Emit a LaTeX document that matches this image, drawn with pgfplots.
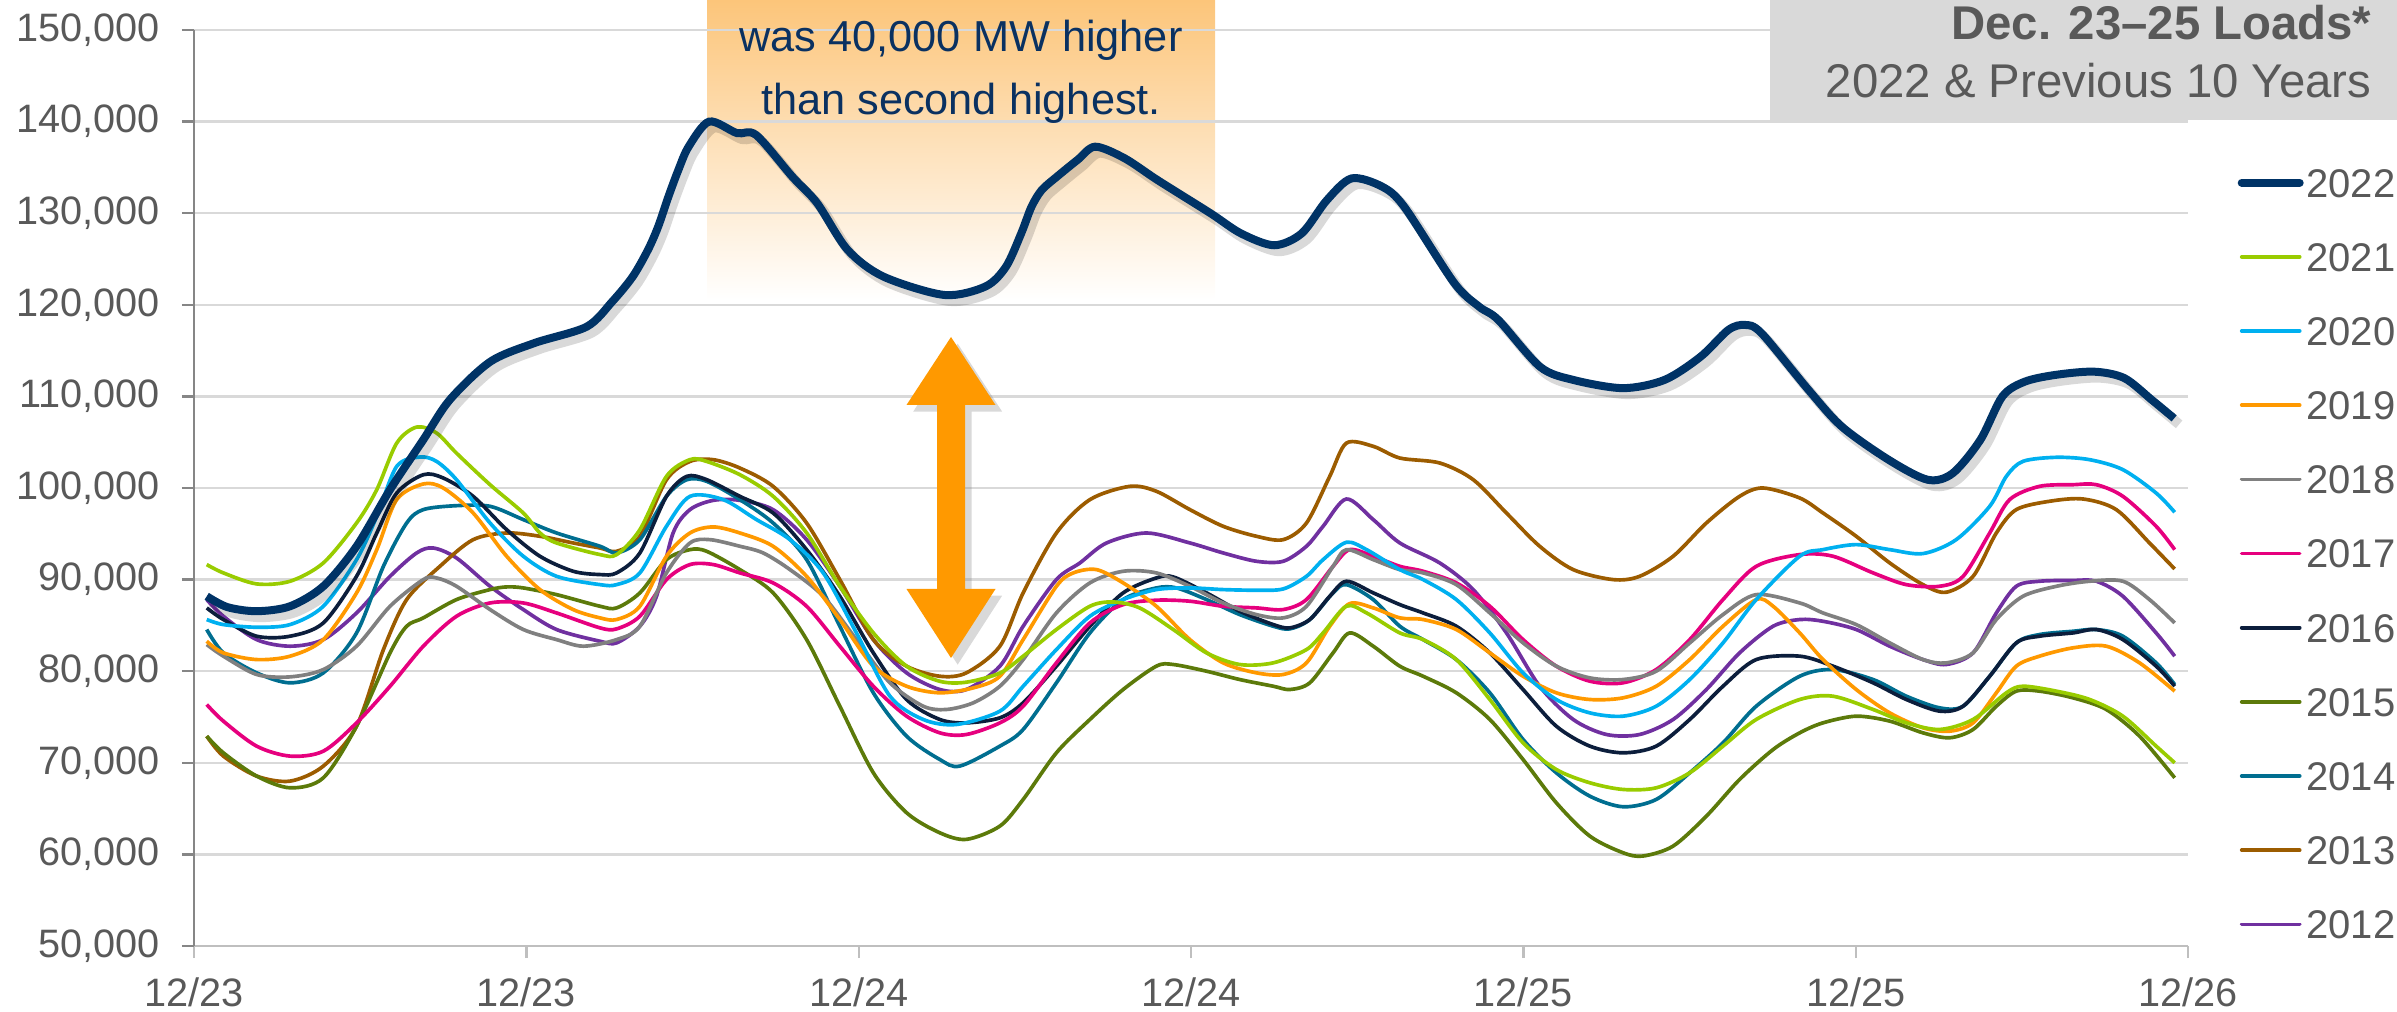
\documentclass[border=0pt]{standalone}
\usepackage{fontspec}
\setmainfont{Liberation Sans}
\usepackage{pgfplots}
\usepackage{pgfplotstable}
\pgfplotsset{compat=1.18}
\usetikzlibrary{shadows}

\definecolor{c2022}{HTML}{003366}
\definecolor{c2021}{HTML}{99CC00}
\definecolor{c2020}{HTML}{00B0F0}
\definecolor{c2019}{HTML}{FF9900}
\definecolor{c2018}{HTML}{808080}
\definecolor{c2017}{HTML}{E6007E}
\definecolor{c2016}{HTML}{0C1E3C}
\definecolor{c2015}{HTML}{5C7A0A}
\definecolor{c2014}{HTML}{006E90}
\definecolor{c2013}{HTML}{9C5C00}
\definecolor{c2012}{HTML}{7030A0}
\definecolor{txtgray}{HTML}{595959}
\definecolor{gridgray}{HTML}{D9D9D9}
\definecolor{boxgray}{HTML}{D9D9D9}
\definecolor{navytxt}{HTML}{0A3161}
\definecolor{arroworange}{HTML}{FF9900}
\definecolor{boxorange}{HTML}{FCC57A}
\definecolor{xaxisgray}{HTML}{BFBFBF}
\definecolor{yaxisgray}{HTML}{868686}

\pgfplotstableread{
h v
0.46 88180
1.2 87000
2.26 86550
3.47 87090
4.67 89270
5.87 93640
7.08 99820
8.28 105270
9.24 109640
10.7 113790
12.3 115830
14.18 117610
15.10 120340
15.84 123070
16.39 125980
16.76 128530
17.13 131800
17.49 134720
17.86 137260
18.6 140000
19.6 138750
20.3 138530
21.6 134000
22.5 131100
23.6 126000
24.9 123070
27.1 121070
28.58 122000
29.32 124160
29.87 127800
30.24 130700
30.61 132530
31.16 133990
31.90 135810
32.54 137260
33.6 136000
34.8 133600
36.7 130000
37.8 127800
39.0 126500
40.0 127800
40.9 131400
41.8 133800
42.9 132900
43.7 130700
45.5 122400
46.4 119800
47.1 118340
48.6 113240
49.8 111800
51.6 110900
53.1 111800
54.4 114330
55.4 117250
56.0 117800
56.6 116900
58.3 110700
59.5 106700
61.2 103060
62.6 100900
63.5 101600
64.5 105240
65.3 110000
66.1 111600
67.2 112340
68.6 112700
69.7 112000
70.7 109600
71.5 107600
}\dataA

\pgfplotstableread{
h v
0.46 91640
1.06 90730
2.26 89530
3.47 89820
4.67 91820
5.87 96180
6.60 99820
7.32 104900
8.04 106650
8.76 106000
9.48 103800
10.69 100360
11.89 97270
12.49 95100
13.09 94000
14.66 92730
15.26 92730
16.10 95450
17.06 101270
17.91 103100
18.51 102900
19.71 101450
20.91 99100
22.12 95100
23.32 89270
24.53 84180
25.73 80550
26.93 78900
27.89 78800
29.10 79800
29.94 81640
31.14 84550
32.35 87090
33.19 87560
34.15 86900
35.36 84550
36.56 82000
37.76 80730
38.97 80910
40.17 82360
40.77 84180
41.61 87100
42.34 86360
43.54 84180
44.38 83450
45.58 81270
46.79 76910
47.99 72180
49.19 69270
50.40 67820
51.60 67090
52.80 67270
54.01 68910
55.21 71820
56.41 74730
57.98 76910
59.18 77270
60.63 75820
61.83 74360
63.03 73640
64.24 74730
65.44 77640
66.04 78360
67.25 77820
68.45 76910
69.65 75090
70.85 71820
71.52 70000
}\dataB

\pgfplotstableread{
h v
0.46 85640
1.06 85090
2.26 84800
3.47 85090
4.67 87090
5.87 92180
6.60 96910
7.32 102360
8.16 103380
8.76 102900
9.48 100900
10.69 96180
11.89 92550
13.09 90360
14.66 89450
15.26 89450
16.10 90730
17.06 95820
17.91 99090
19.11 98730
20.31 96550
21.52 94360
22.72 90730
23.92 84180
25.13 77270
26.33 74730
27.53 74180
29.10 75640
29.94 78360
31.14 82360
32.35 86000
33.55 87820
34.75 88910
35.96 89090
37.16 88910
38.36 88840
39.33 88980
40.17 90360
40.77 92180
41.61 94070
42.34 93270
43.54 91090
44.38 90000
45.58 87820
46.79 84180
47.99 79820
49.19 76910
50.40 75450
51.60 75090
52.80 76180
54.01 79090
55.21 83090
56.41 87820
57.98 92550
58.82 93270
60.02 93820
61.23 93270
62.43 92840
63.63 94360
64.84 98000
65.44 101270
66.04 102910
67.25 103350
68.45 103090
69.65 102000
70.85 99450
71.52 97350
}\dataC

\pgfplotstableread{
h v
0.46 83270
1.06 82000
2.26 81270
3.47 81640
4.67 83450
5.87 88550
6.60 93270
7.32 98730
8.28 100440
9.00 100000
10.08 97270
11.29 92550
12.49 88910
13.69 86730
14.66 85820
15.26 85640
16.10 87090
17.06 92550
17.91 95090
18.75 95750
19.71 95090
20.91 93640
22.12 90360
23.32 85640
24.53 80550
25.73 78360
26.93 77640
28.14 78180
29.10 79450
29.94 83450
31.14 89270
31.75 90730
32.59 91090
33.55 89640
34.75 87090
35.96 83450
37.16 80910
38.36 79820
39.33 79640
40.17 80910
41.01 84910
41.73 87380
42.58 86910
43.54 85820
44.38 85640
45.58 84550
46.79 82000
47.99 79450
49.19 77640
50.40 76910
51.60 77090
52.80 78360
54.01 81270
55.21 84910
56.41 87820
57.02 87090
57.98 84180
58.82 81270
60.02 78000
61.23 75450
62.43 73820
63.39 73450
64.24 74360
65.08 77640
65.80 80550
66.64 81640
67.85 82550
69.05 82730
70.25 80910
71.52 77820
}\dataD

\pgfplotstableread{
h v
0.46 82910
1.06 81640
2.26 79640
3.47 79380
4.67 80180
5.87 82730
7.08 87090
8.28 90000
8.76 90180
9.48 89270
10.69 86730
11.89 84550
13.09 83450
14.06 82730
15.26 83450
16.10 84910
17.06 90730
17.91 94000
18.63 94360
19.71 93640
20.55 92910
21.52 91090
22.72 88180
23.92 83450
25.13 78730
26.33 76180
27.17 75820
28.14 76550
29.10 78360
29.94 81270
31.14 86360
32.35 89640
33.55 90910
34.75 90730
35.96 89270
37.16 87450
38.36 86180
39.33 85820
40.17 87090
41.13 91450
41.61 93270
42.58 92180
43.54 91090
44.38 90730
45.58 89450
46.79 86360
47.99 83090
49.19 80550
50.40 79270
51.60 79090
52.80 80000
54.01 83090
55.21 86180
56.41 88360
57.98 87450
58.82 86360
60.02 85090
61.23 83090
62.43 81270
63.27 80910
64.24 82000
65.08 85640
66.04 88180
67.25 89270
68.45 89820
69.65 89820
70.61 87820
71.52 85270
}\dataE

\pgfplotstableread{
h v
0.46 76360
1.06 74550
2.26 71820
3.47 70730
4.67 71270
5.87 74360
7.08 78360
8.28 82730
9.48 86000
10.69 87450
11.89 87450
13.09 86360
14.66 84730
15.26 84620
16.10 86000
17.06 90000
17.91 91640
18.75 91640
19.71 90730
20.91 89640
22.12 87090
23.32 82730
24.53 78360
25.73 75090
26.93 73270
27.89 73090
29.10 74360
29.94 76180
31.14 80910
32.35 85270
33.55 87270
34.75 87750
35.96 87640
37.16 87090
38.36 86910
39.33 86730
40.17 87820
41.13 91450
41.73 93270
42.58 92550
43.54 91450
44.38 90910
45.58 89640
46.79 87090
47.99 83450
49.19 80550
50.40 78910
51.60 78730
52.80 80180
54.01 83450
55.21 87820
56.41 91450
57.98 92730
59.18 92550
60.63 90730
61.83 89450
63.03 89270
63.88 90360
64.84 95090
65.56 98730
66.64 100180
67.85 100360
68.69 100360
69.65 99090
70.85 95820
71.52 93270
}\dataF

\pgfplotstableread{
h v
0.46 86910
1.06 85640
2.26 83820
3.47 83820
4.67 85270
5.87 90360
6.60 95090
7.32 99450
8.28 101450
9.00 101090
10.08 99090
11.29 95450
12.49 92550
13.69 90910
14.66 90550
15.26 90730
16.10 92910
17.06 99090
17.79 101270
18.51 100910
19.71 99090
20.91 97270
22.12 93270
23.32 88180
24.53 82000
25.73 76910
26.93 74730
27.89 74360
29.10 74910
29.94 76550
31.14 80550
32.35 84910
33.55 88550
34.75 90180
35.36 90290
36.56 88550
37.76 86550
38.97 85090
39.57 84730
40.29 85640
41.01 88180
41.61 89820
42.58 88550
43.54 87270
44.38 86360
45.58 84910
46.79 82000
47.99 78000
49.19 74000
50.40 71820
51.60 71090
52.80 71820
54.01 74730
55.21 78360
56.41 81270
57.98 81640
59.18 80550
60.63 78730
61.83 76910
63.03 75640
63.88 76180
64.84 79450
65.80 83090
66.64 83820
67.85 84180
68.69 84550
69.65 83450
70.85 80550
71.52 78360
}\dataG

\pgfplotstableread{
h v
0.46 72910
1.06 71090
2.26 68550
3.47 67270
4.67 68360
5.87 74000
7.08 82000
7.68 84910
8.28 85820
9.48 87820
10.69 88910
11.29 89200
11.89 89090
13.09 88360
14.66 87090
15.26 86910
16.10 88550
17.06 92180
17.91 93270
18.51 93090
19.71 91090
20.91 88550
22.12 83450
23.32 76180
24.53 68910
25.73 64550
26.93 62360
27.89 61640
29.10 63090
29.94 66000
31.14 71090
32.35 74730
33.55 78000
34.75 80550
35.36 80730
36.56 80000
37.76 79090
38.97 78360
39.57 78000
40.29 78730
41.13 82000
41.73 84180
42.58 82730
43.54 80550
44.38 79450
45.58 77640
46.79 74730
47.99 70360
49.19 65640
50.40 62000
51.60 60180
52.32 59820
53.41 60910
54.61 64180
55.81 68180
57.02 71450
57.98 73270
58.82 74360
60.02 75090
61.23 74550
62.43 73270
63.39 72730
64.24 73640
65.08 76180
65.80 77820
66.64 77820
67.85 77090
69.05 75820
70.25 72910
71.52 68360
}\dataH

\pgfplotstableread{
h v
0.46 84550
1.06 82000
2.26 79820
3.47 78730
4.67 79820
5.87 84180
6.84 91450
7.68 96180
8.28 97640
9.48 98070
10.69 98000
11.89 96550
13.09 95090
14.66 93640
15.26 92910
16.10 94360
17.06 99090
17.79 100900
18.51 100730
19.71 98730
20.91 96180
22.12 92180
23.32 84910
24.53 77640
25.73 72910
26.93 70360
27.65 69640
29.10 71820
29.94 73640
31.14 78730
32.35 84180
33.55 87820
34.75 89090
35.48 89090
36.56 87820
37.76 86180
38.97 84910
39.57 84620
40.29 85640
41.13 88550
41.61 89450
42.58 87820
43.54 84910
44.38 83450
45.58 81270
46.79 77640
47.99 72550
49.19 68910
50.40 66360
51.60 65200
52.80 66000
54.01 68910
55.21 72180
56.41 76180
57.98 79450
59.18 80180
60.63 79090
61.83 77270
63.03 76000
63.88 76180
64.84 79450
65.80 83090
66.64 84000
67.85 84360
68.69 84550
69.65 83820
70.85 80910
71.52 78550
}\dataI

\pgfplotstableread{
h v
0.46 72910
1.06 70730
2.26 68550
3.47 68000
4.67 69640
5.87 74000
6.84 82360
7.68 87820
8.88 91450
10.08 94360
11.29 95090
12.49 94730
13.69 94000
14.66 93450
15.26 93090
16.10 94730
17.06 100900
17.91 102900
18.75 103090
19.71 102180
20.91 100180
22.12 96180
23.32 90000
24.53 83450
25.73 80550
26.93 79450
27.89 79820
29.10 82730
29.94 88550
31.14 95090
32.35 98730
33.79 100180
34.75 99640
35.96 97640
37.16 95820
38.36 94730
39.33 94360
40.17 96180
41.01 101270
41.61 104900
42.58 104550
43.54 103270
44.98 102730
46.19 100910
47.39 97270
48.59 93640
49.80 91090
51.24 90000
52.20 90360
53.41 92550
54.61 96180
55.81 99090
56.66 100000
57.98 98910
58.82 97270
60.02 94730
61.23 91820
62.43 89450
63.27 88620
64.24 90360
65.08 95090
65.80 97640
67.00 98550
68.21 98800
69.41 97640
70.61 94000
71.52 91160
}\dataJ

\pgfplotstableread{
h v
0.46 87820
1.06 86000
2.26 83450
3.47 82730
4.67 83450
5.87 86360
7.08 90360
8.04 92910
8.64 93450
9.48 92360
10.69 89270
11.89 86730
13.09 84550
14.66 83270
15.26 83090
16.10 84910
16.70 88180
17.30 95090
17.91 97640
18.75 98650
19.71 98650
20.91 97640
22.12 94360
23.32 89270
24.53 83450
25.73 79820
26.93 78000
27.89 78000
29.10 80550
29.94 84910
31.14 90000
31.99 91820
32.95 94000
34.39 95090
35.96 94000
37.16 92910
38.36 92000
39.33 92000
40.17 93640
40.77 95820
41.61 98800
42.58 96550
43.54 94000
44.98 91820
46.19 88910
47.39 84180
48.59 78360
49.80 74730
51.00 73090
52.20 73090
53.41 74730
54.61 78000
55.81 82000
57.02 84910
57.98 85640
58.82 85450
60.02 84550
61.23 82730
62.43 81270
63.27 80730
64.24 82000
65.08 86360
65.80 89270
66.64 89820
67.85 89910
68.69 89820
69.65 88180
70.85 84180
71.52 81640
}\dataK

\begin{document}
\begin{tikzpicture}[x=1bp,y=1bp]
\useasboundingbox (-58.2bp,-19.5bp) rectangle (660.9bp,283.8bp);
% orange annotation panel (behind grid)
\shade[top color=boxorange, middle color=boxorange!55!white, bottom color=white]
  (153.9bp,193.8bp) rectangle (306.3bp,283.8bp);
\begin{axis}[
  at={(0,0)}, anchor=south west,
  scale only axis, width=598.2bp, height=274.8bp,
  xmin=0, xmax=72, ymin=50000, ymax=150000,
  xtick={0,12,...,72},
  xticklabels={12/23,12/23,12/24,12/24,12/25,12/25,12/26},
  ytick={50000,60000,...,150000},
  scaled y ticks=false,
  yticklabel style={/pgf/number format/fixed, /pgf/number format/precision=0,
    /pgf/number format/1000 sep={,}, /pgf/number format/assume math mode=true,
    xshift=-3.2bp},
  xticklabel style={yshift=-2.5bp},
  axis x line=bottom, axis y line=left,
  x axis line style={-, draw=xaxisgray, line width=0.7bp},
  y axis line style={-, draw=yaxisgray, line width=0.7bp},
  tick align=outside,
  major tick length=3.6bp,
  xtick style={draw=xaxisgray, line width=0.7bp},
  ytick style={draw=yaxisgray, line width=0.7bp},
  ymajorgrids,
  major grid style={draw=gridgray, line width=0.7bp},
  tick label style={font=\fontsize{11.9bp}{14bp}\selectfont, text=txtgray},
  reverse legend,
  legend cell align=left,
  legend image code/.code={\draw[#1, line cap=round] (0bp,0bp) -- (17.4bp,0bp);},
  legend style={at={(1.0246,0.8497)}, anchor=north west, draw=none, fill=none,
    inner sep=0pt, row sep=13.65bp, column sep=0.8bp,
    font=\fontsize{12bp}{14bp}\selectfont, text=txtgray,
    nodes={inner sep=0pt, text height=8.6bp, text depth=0pt}},
  every axis plot/.append style={smooth, line width=1.1bp},
]
\addplot[c2012] table {\dataK}; \addlegendentry{2012}
\addplot[c2013] table {\dataJ}; \addlegendentry{2013}
\addplot[c2014] table {\dataI}; \addlegendentry{2014}
\addplot[c2015] table {\dataH}; \addlegendentry{2015}
\addplot[c2016] table {\dataG}; \addlegendentry{2016}
\addplot[c2017] table {\dataF}; \addlegendentry{2017}
\addplot[c2018] table {\dataE}; \addlegendentry{2018}
\addplot[c2019] table {\dataD}; \addlegendentry{2019}
\addplot[c2020] table {\dataC}; \addlegendentry{2020}
\addplot[c2021] table {\dataB}; \addlegendentry{2021}
\addplot[black, opacity=0.15, line width=3bp, forget plot]
  table[x expr=\thisrow{h}+0.18, y expr=\thisrow{v}-650] {\dataA};
\addplot[c2022, line width=2.4bp] table {\dataA}; \addlegendentry{2022}
\end{axis}
% title box
\fill[boxgray] (472.8bp,247.8bp) rectangle (660.9bp,283.8bp);
\node[anchor=base east, inner sep=0pt, text=txtgray, font=\fontsize{14.2bp}{16bp}\selectfont\bfseries]
  at (653.4bp,271.8bp) {Dec. 23–25 Loads*};
\node[anchor=base east, inner sep=0pt, text=txtgray, font=\fontsize{14.2bp}{16bp}\selectfont]
  at (653.4bp,254.4bp) {2022 \& Previous 10 Years};
% annotation text
\node[anchor=base, inner sep=0pt, text=navytxt, font=\fontsize{13bp}{15bp}\selectfont]
  at (230.1bp,268.3bp) {was 40,000 MW higher};
\node[anchor=base, inner sep=0pt, text=navytxt, font=\fontsize{13bp}{15bp}\selectfont]
  at (230.1bp,249.3bp) {than second highest.};
% double arrow
\fill[arroworange, drop shadow={shadow xshift=2bp, shadow yshift=-2bp, opacity=0.3}]
  (227.1bp,182.7bp) -- (240.45bp,162.3bp) -- (231.3bp,162.3bp) -- (231.3bp,107.1bp)
  -- (240.45bp,107.1bp) -- (227.1bp,86.4bp) -- (213.75bp,107.1bp) -- (222.9bp,107.1bp)
  -- (222.9bp,162.3bp) -- (213.75bp,162.3bp) -- cycle;
\end{tikzpicture}
\end{document}
